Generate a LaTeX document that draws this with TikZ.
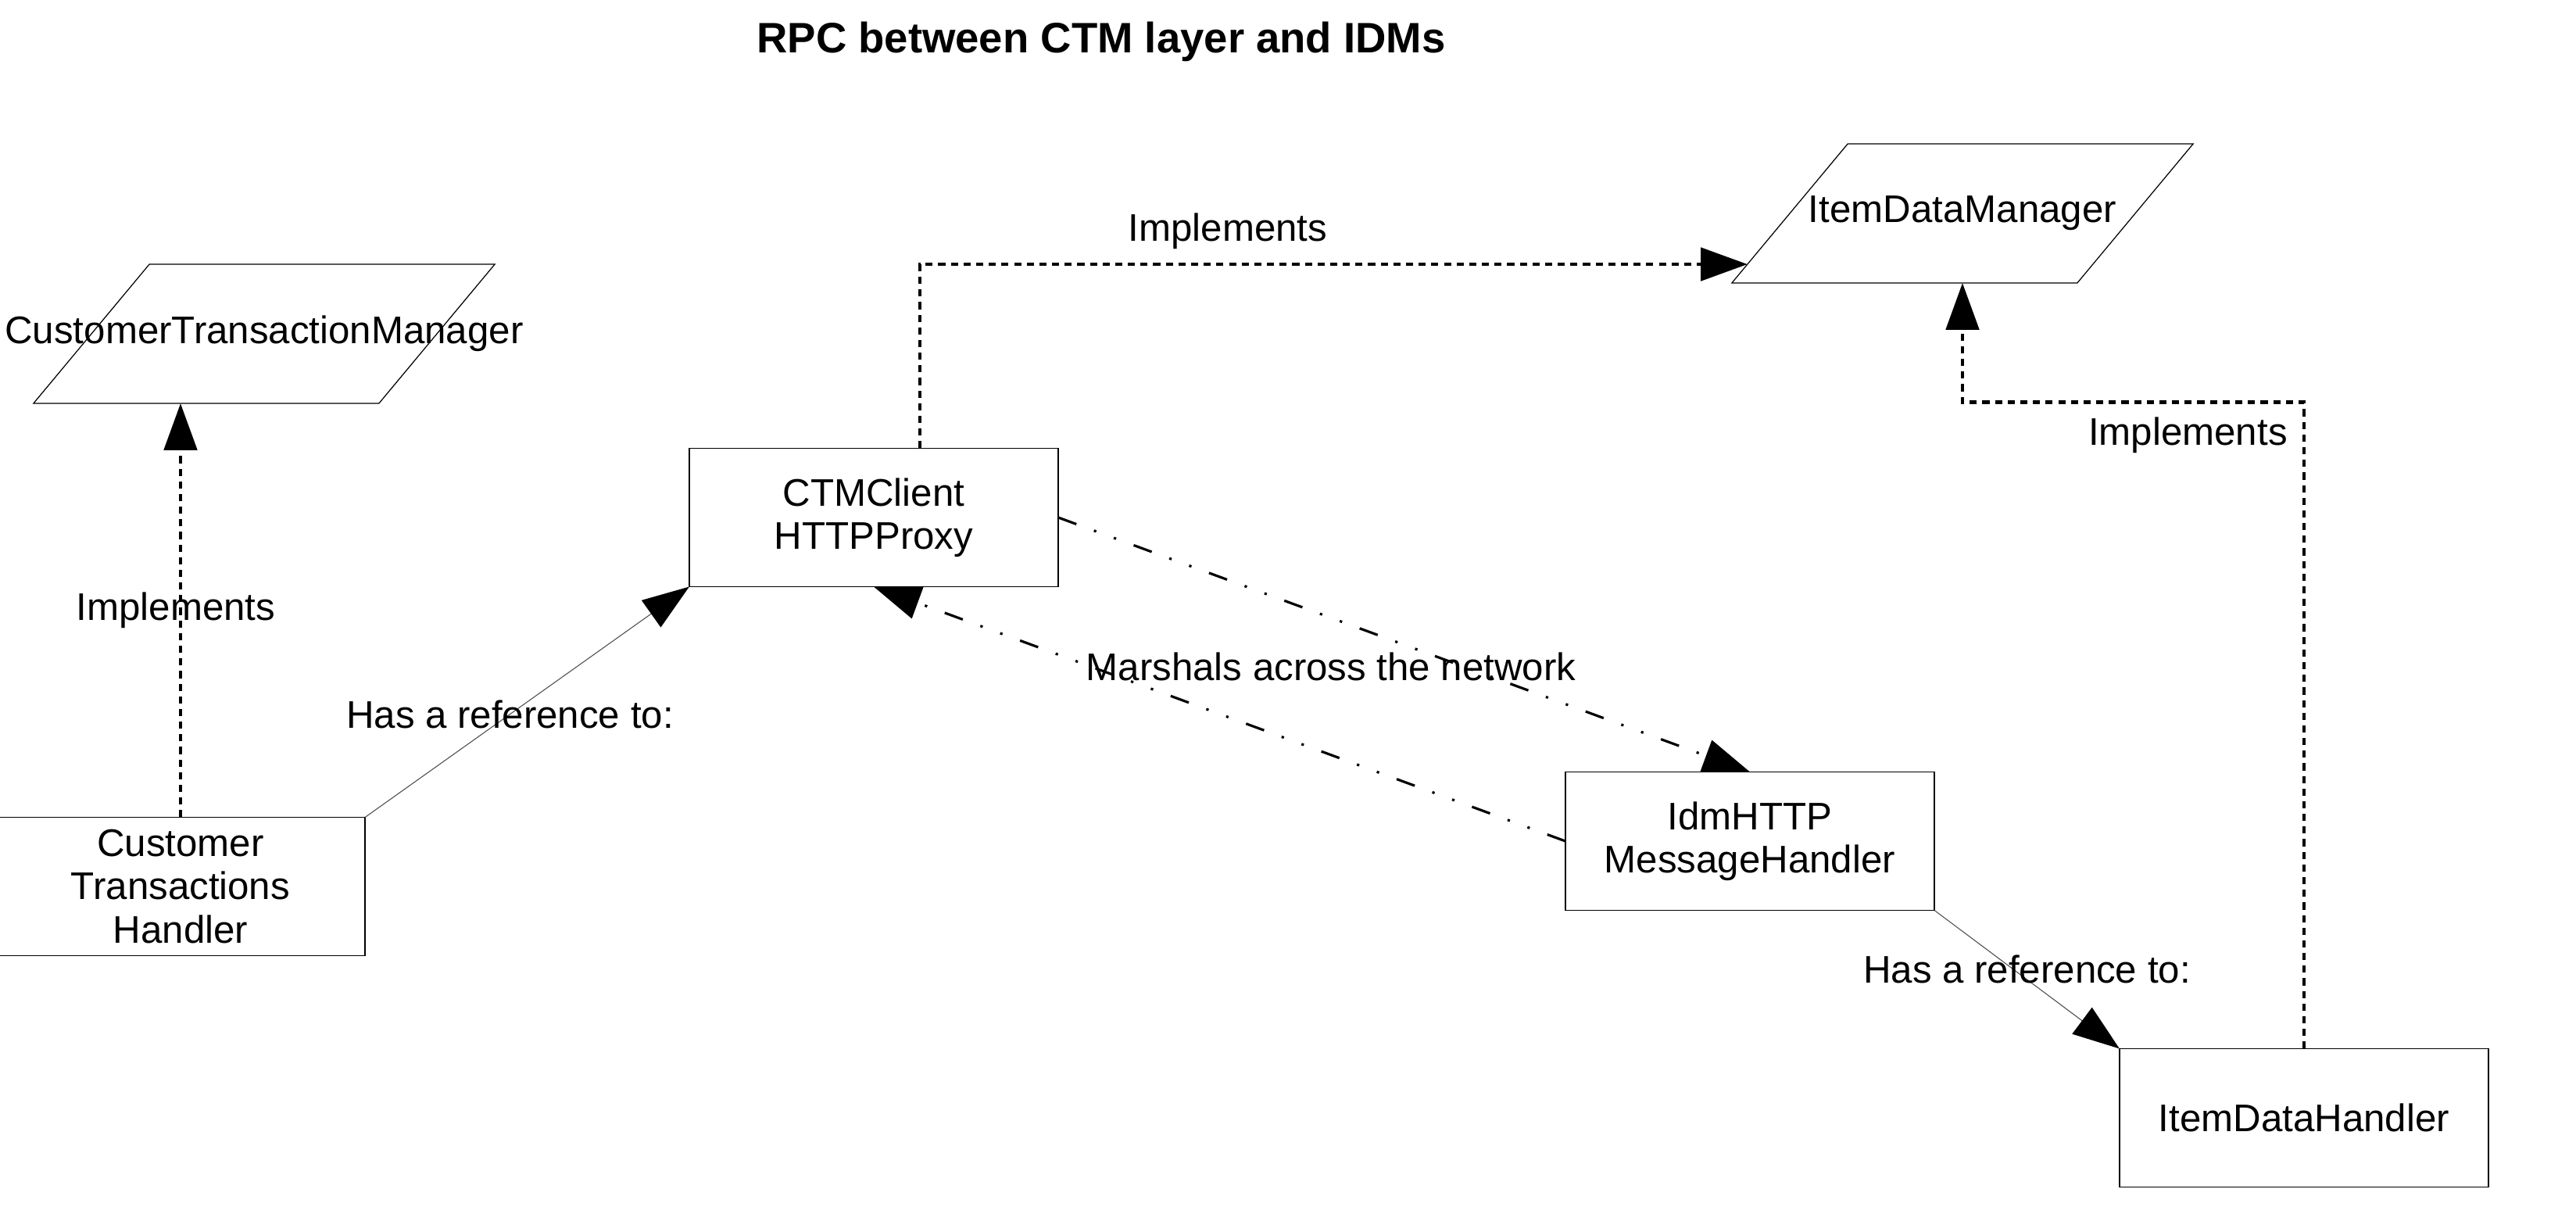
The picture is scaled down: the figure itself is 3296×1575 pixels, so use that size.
\documentclass[tikz,border=0pt]{standalone}
\usepackage{fontspec}
\setmainfont{Liberation Sans}
\usepackage{tikz}
\usetikzlibrary{positioning}
\usetikzlibrary{calc,arrows.meta}

\begin{document}
\begin{tikzpicture}[x=0.01cm, y=-0.01cm,
  every node/.style={font=\fontsize{14}{15.7}\selectfont, outer sep=0pt},
  box/.style={draw, line width=0.45pt, minimum width=4.72cm, minimum height=1.77cm, inner sep=0pt, align=center},
  iface/.style={minimum width=5.9cm, minimum height=1.78cm, inner sep=0pt},
  impl/.style={line width=1.25pt, dash pattern=on 2.6pt off 2pt, -{Triangle[length=17pt, width=12pt]}},
  marshal/.style={line width=0.9pt, dash pattern=on 7pt off 6.8pt on 0.9pt off 6.8pt on 0.9pt off 6.8pt, -{Triangle[length=17pt, width=12pt]}},
  refline/.style={line width=0.3pt, draw=gray!60!black, -{Triangle[length=17pt, width=12pt, color=black]}}]
\path [use as bounding box, fill=white] (0,0) rectangle (3296,1575);

\node (title) at (1409,53) [font=\fontsize{15.5}{18}\selectfont\bfseries] {RPC between CTM layer and IDMs};

% interfaces
\node (ctm) at (338,427) [iface] {\makebox[0pt]{CustomerTransactionManager}};
\node (idm) at (2511,273) [iface] {ItemDataManager};
\foreach \n in {ctm, idm}
  \draw [line width=0.35pt] (\n.south west) -- ++(442,0) -- (\n.north east) -- ++(-442,0) -- cycle;

% classes
\node (cth) at (231,1134) [box] {Customer\\Transactions\\Handler};
\node (ctmc) at (1118,662) [box] {CTMClient\\HTTPProxy};
\node (idmh) at (2239,1076) [box] {IdmHTTP\\MessageHandler};
\node (idh) at (2948,1430) [box] {ItemDataHandler};

\draw [impl] (cth.north) -- (cth.north |- ctm.south) node [pos=0.5, xshift=-0.06cm] {Implements};
\draw [impl] ([xshift=0.59cm]ctmc.north) |- ([xshift=0.2cm, yshift=0.24cm]idm.south west) node [pos=0.686, yshift=0.42cm] {Implements};
\draw [impl] (idh.north) -- ++(0,-827) -| (idm.center |- idm.south) node [pos=0.17, yshift=-0.42cm] {Implements};

\draw [refline] (cth.north east) -- (ctmc.south west) node [pos=0.5, xshift=-0.22cm, yshift=-0.16cm, text=black] {Has a reference to:};
\draw [refline] (idmh.south east) -- (idh.north west) node [pos=0.5, yshift=0.13cm, text=black] {Has a reference to:};

\draw [marshal] (ctmc.east) -- (idmh.north);
\draw [marshal] (idmh.west) -- (ctmc.south);
\node (marshals) at (1703,853) {Marshals across the network};
\end{tikzpicture}
\end{document}
